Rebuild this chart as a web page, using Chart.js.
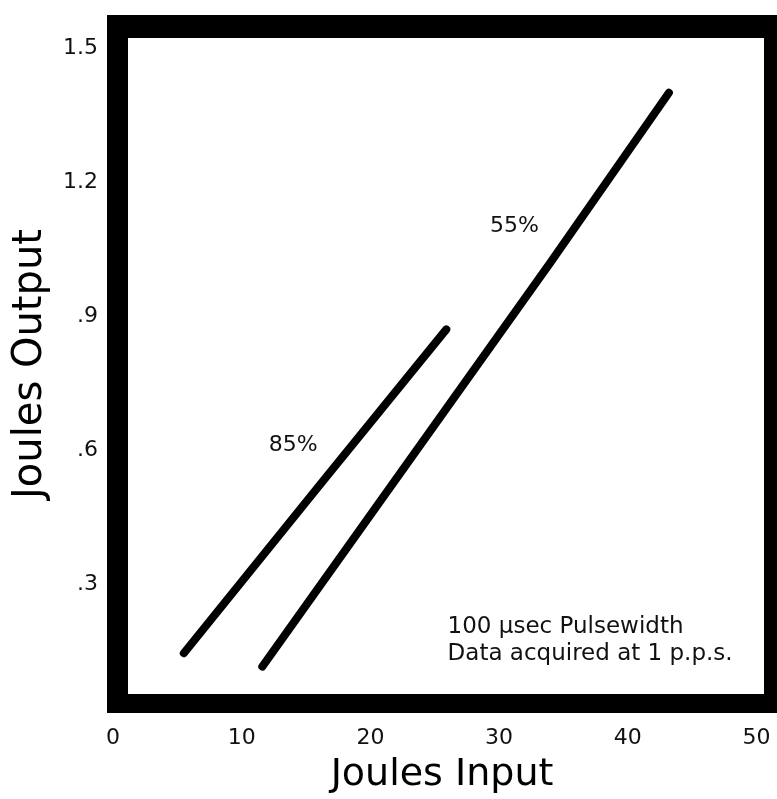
<!DOCTYPE html>
<html>
<head>
<meta charset="utf-8">
<script src="https://cdn.jsdelivr.net/npm/chart.js@4/dist/chart.umd.min.js"></script>
<style>
  html, body { margin: 0; padding: 0; background: #fff; }
  #wrap { width: 777px; height: 799px; }
</style>
</head>
<body>
<div id="wrap"><canvas id="chart" width="777" height="799"></canvas></div>
<script>
// values
const line85x = [5.5, 16.3, 25.9];
const line85y = [0.145, 0.53, 0.87];
const line55x = [11.6, 34.0, 43.2];
const line55y = [0.115, 1.02, 1.40];

const xTicks = [0, 10, 20, 30, 40, 50];
const yTicks = [0.3, 0.6, 0.9, 1.2, 1.5];
const yTickLabels = ['.3', '.6', '.9', '1.2', '1.5'];

const labelText = ['55%', '85%'];
const labelX = [31.2, 14.0];
const labelY = [1.10, 0.61];

const noteLines = ['100 \u00b5sec Pulsewidth', 'Data acquired at 1 p.p.s.'];
const noteX = 26.0;
const noteY = [0.204, 0.143];

const FONT = "'DejaVu Sans', sans-serif";

function toPoints(xs, ys) {
    return xs.map((x, i) => ({ x: x, y: ys[i] }));
}

// thick black frame round the plot
const framePlugin = {
    id: 'frame',
    beforeDatasetsDraw(chart) {
        const { ctx, chartArea: a } = chart;
        ctx.save();
        ctx.fillStyle = '#000';
        ctx.fillRect(a.left, a.top, a.right - a.left, 23);
        ctx.fillRect(a.left, a.bottom - 19, a.right - a.left, 19);
        ctx.fillRect(a.left, a.top, 21, a.bottom - a.top);
        ctx.fillRect(a.right - 13, a.top, 13, a.bottom - a.top);
        ctx.restore();
    }
};

const textPlugin = {
    id: 'texts',
    afterDatasetsDraw(chart) {
        const { ctx, scales } = chart;
        ctx.save();
        ctx.fillStyle = '#111';
        ctx.font = '22px ' + FONT;
        ctx.textAlign = 'center';
        ctx.textBaseline = 'middle';
        labelText.forEach((t, i) => {
            ctx.fillText(t, scales.x.getPixelForValue(labelX[i]), scales.y.getPixelForValue(labelY[i]));
        });
        ctx.font = '23px ' + FONT;
        ctx.textAlign = 'left';
        noteLines.forEach((t, i) => {
            ctx.fillText(t, scales.x.getPixelForValue(noteX), scales.y.getPixelForValue(noteY[i]));
        });
        ctx.restore();
    }
};

const lineStyle = {
    borderColor: '#000',
    borderWidth: 8,
    borderCapStyle: 'round',
    pointRadius: 0,
    fill: false,
    tension: 0
};

new Chart(document.getElementById('chart').getContext('2d'), {
    type: 'line',
    data: {
        datasets: [
            Object.assign({ label: '85%', data: toPoints(line85x, line85y) }, lineStyle),
            Object.assign({ label: '55%', data: toPoints(line55x, line55y) }, lineStyle)
        ]
    },
    options: {
        responsive: false,
        animation: false,
        layout: { padding: { top: 15, right: 0, left: 0, bottom: 0 } },
        plugins: { legend: { display: false }, tooltip: { enabled: false } },
        scales: {
            x: {
                type: 'linear',
                min: -0.47,
                max: 51.6,
                afterFit: s => { s.height = 86; s.paddingLeft = 0; s.paddingRight = 0; },
                afterBuildTicks: s => { s.ticks = xTicks.map(v => ({ value: v })); },
                grid: { display: false, drawTicks: false },
                border: { display: false },
                ticks: { color: '#111', font: { family: FONT, size: 22 }, padding: 12, maxRotation: 0, autoSkip: false },
                title: { display: true, text: 'Joules Input', color: '#000', font: { family: FONT, size: 38, lineHeight: 1.2 }, padding: { top: 0, bottom: 1 } }
            },
            y: {
                type: 'linear',
                min: 0.011,
                max: 1.574,
                afterFit: s => { s.width = 107; s.paddingTop = 0; s.paddingBottom = 0; },
                afterBuildTicks: s => { s.ticks = yTicks.map(v => ({ value: v })); },
                grid: { display: false, drawTicks: false },
                border: { display: false },
                ticks: {
                    color: '#111',
                    font: { family: FONT, size: 22 },
                    padding: 9,
                    autoSkip: false,
                    callback: (v) => {
                        const i = yTicks.findIndex(t => Math.abs(t - v) < 1e-6);
                        return i >= 0 ? yTickLabels[i] : '';
                    }
                },
                title: { display: true, text: 'Joules Output', color: '#000', font: { family: FONT, size: 40, lineHeight: 1.2 }, padding: { top: 7, bottom: 0 } }
            }
        }
    },
    plugins: [framePlugin, textPlugin]
});
</script>
</body>
</html>
